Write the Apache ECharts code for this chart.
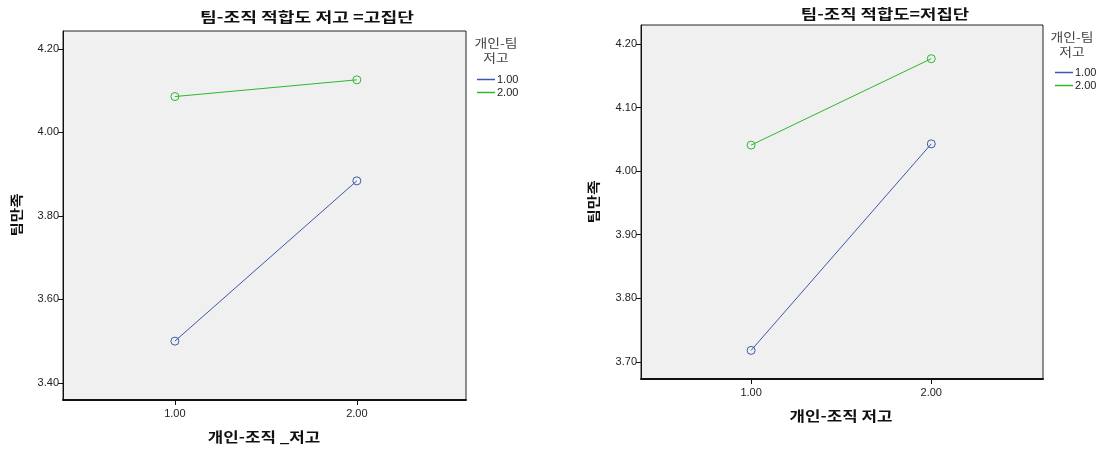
<!DOCTYPE html>
<html>
<head>
<meta charset="utf-8">
<script src="https://cdn.jsdelivr.net/npm/echarts@6/dist/echarts.min.js"></script>
<style>
  html, body { margin: 0; padding: 0; background: #fff; }
  #container { width: 1099px; height: 449px; }
</style>
</head>
<body>
<div id="container"></div>
<script>
// x positions (개인-조직 저고)
var xValues = [1, 2];
var xTickLabels = [1, 2];
var groups = ['1.00', '2.00'];

// 팀-조직 적합도 =고집단
var highBlue = [3.500, 3.884];
var highGreen = [4.086, 4.126];
var highYTicks = [3.4, 3.6, 3.8, 4.0, 4.2];

// 팀-조직 적합도=저집단
var lowBlue = [3.718, 4.043];
var lowGreen = [4.041, 4.177];
var lowYTicks = [3.7, 3.8, 3.9, 4.0, 4.1, 4.2];

var colors = ['#3e58ac', '#2eb82e'];
var labelFont = 'Liberation Sans, Arial, sans-serif';
var krFont = '"Noto Sans CJK KR", sans-serif';

function pairs(ys) {
    return xValues.map(function (x, i) { return [x, ys[i]]; });
}

function makeX(idx, min, max) {
    return {
        type: 'value', gridIndex: idx, min: min, max: max,
        splitLine: { show: false },
        axisLine: { show: true, onZero: false, lineStyle: { color: '#111', width: 2 } },
        axisTick: { show: true, length: 5, customValues: xTickLabels, lineStyle: { color: '#111' } },
        axisLabel: {
            customValues: xTickLabels, margin: 8,
            formatter: function (v) { return v.toFixed(2); },
            fontFamily: labelFont, fontSize: 11, color: '#222'
        }
    };
}

function makeY(idx, min, max, ticks) {
    return {
        type: 'value', gridIndex: idx, min: min, max: max,
        splitLine: { show: false },
        axisLine: { show: true, onZero: false, lineStyle: { color: '#111', width: 1 } },
        axisTick: { show: true, length: 5, customValues: ticks, lineStyle: { color: '#111' } },
        axisLabel: {
            customValues: ticks, margin: 4,
            formatter: function (v) { return v.toFixed(2); },
            fontFamily: labelFont, fontSize: 11, color: '#222'
        }
    };
}

function makeLine(name, xi, data, color) {
    return {
        name: name, type: 'line', xAxisIndex: xi, yAxisIndex: xi,
        data: data, symbol: 'circle', symbolSize: 8,
        lineStyle: { color: color, width: 1 },
        itemStyle: { color: 'rgba(0,0,0,0)', borderColor: color, borderWidth: 1 },
        emphasis: { disabled: true },
        animation: false
    };
}

function legendBlock(left, top) {
    return {
        orient: 'vertical', left: left, top: top, itemGap: 2,
        itemWidth: 18, itemHeight: 1.5, icon: 'rect',
        data: groups.map(function (g, i) {
            return { name: g, itemStyle: { color: colors[i], borderWidth: 0 } };
        }),
        textStyle: { fontFamily: labelFont, fontSize: 11, color: '#222', padding: [0, 0, 0, -3] }
    };
}

// stretched text to match the wide Korean font of the original
function label(text, x, y, size, bold, sx, rot, fill) {
    return {
        type: 'text', x: x, y: y, scaleX: sx, rotation: rot || 0,
        style: {
            text: text, font: (bold ? 'bold ' : '') + size + 'px ' + krFont,
            fill: fill || '#111', align: 'center', verticalAlign: 'middle', lineHeight: 15
        }
    };
}

var chart = echarts.init(document.getElementById('container'), null, { renderer: 'canvas' });

var option = {
    backgroundColor: '#fff',
    color: colors,
    grid: [
        { left: 63, top: 31, width: 403, height: 369, show: true, backgroundColor: '#f0f0f0', borderColor: '#222', borderWidth: 1 },
        { left: 641, top: 25, width: 402, height: 354, show: true, backgroundColor: '#f0f0f0', borderColor: '#222', borderWidth: 1 }
    ],
    xAxis: [makeX(0, 0.385, 2.60), makeX(1, 0.389, 2.62)],
    yAxis: [makeY(0, 3.359, 4.243, highYTicks), makeY(1, 3.673, 4.230, lowYTicks)],
    legend: [legendBlock(472, 69), legendBlock(1050, 62)],
    graphic: [
        label('팀-조직 적합도 저고 =고집단', 307, 17, 14, true, 1.3),
        label('팀-조직 적합도=저집단', 885, 14, 14, true, 1.27),
        label('개인-조직 _저고', 264, 437, 14, true, 1.2),
        label('개인-조직 저고', 841, 416, 14, true, 1.2),
        label('팀만족', 16, 215, 13, true, 1.2, Math.PI / 2),
        label('팀만족', 593, 202, 13, true, 1.2, Math.PI / 2),
        label('개인-팀\n저고', 496, 51, 12, false, 1.15, 0, '#444'),
        label('개인-팀\n저고', 1072, 45, 12, false, 1.15, 0, '#444')
    ],
    series: [
        makeLine(groups[0], 0, pairs(highBlue), colors[0]),
        makeLine(groups[1], 0, pairs(highGreen), colors[1]),
        makeLine(groups[0], 1, pairs(lowBlue), colors[0]),
        makeLine(groups[1], 1, pairs(lowGreen), colors[1])
    ]
};

chart.setOption(option);
window.addEventListener('resize', chart.resize);
</script>
</body>
</html>
